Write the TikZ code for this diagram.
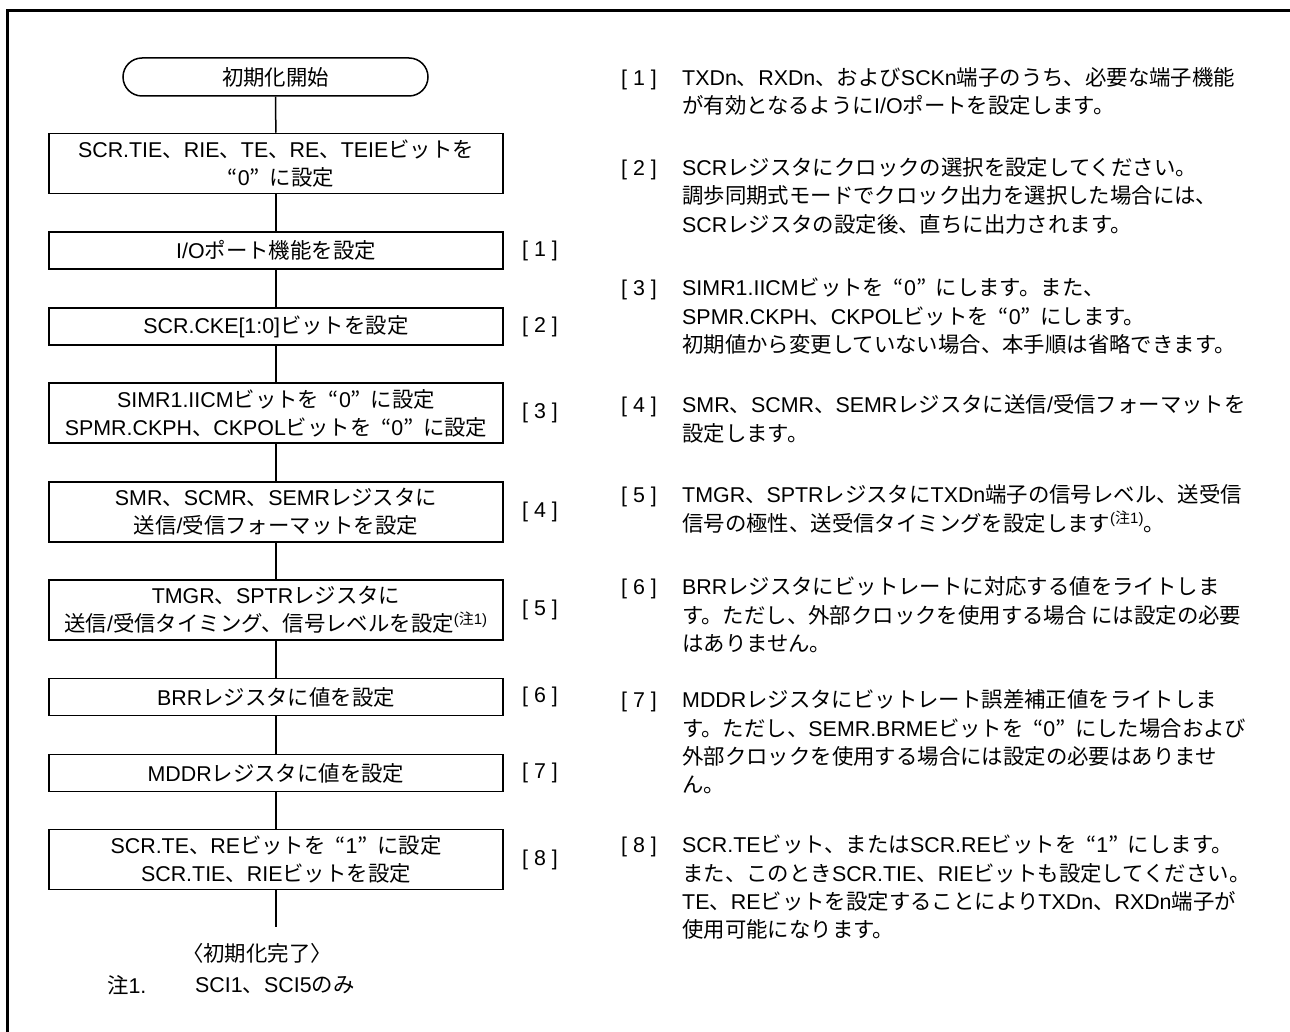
\documentclass[tikz,border=0pt]{standalone}
\usepackage{fontspec}
\setmainfont{Liberation Sans}
\newfontfamily\latinfont{Liberation Sans}
\newfontfamily\jafont{Noto Sans CJK JP}
\usetikzlibrary{shapes.misc}
\XeTeXinterchartokenstate=1
\newXeTeXintercharclass\JClass
\newcount\jcnt
\def\setjrange#1#2{\jcnt=#1\relax
  \loop\XeTeXcharclass\jcnt=\JClass
  \ifnum\jcnt<#2\relax\advance\jcnt by 1\repeat}
\setjrange{"3000}{"30FF}
\setjrange{"4E00}{"9FFF}
\setjrange{"FF00}{"FFEF}
\XeTeXcharclass"201C=\JClass
\XeTeXcharclass"201D=\JClass
\XeTeXinterchartoks 0 \JClass = {\jafont}
\XeTeXinterchartoks 4095 \JClass = {\jafont}
\XeTeXinterchartoks \JClass 0 = {\latinfont}
\XeTeXinterchartoks 4095 0 = {\latinfont}
\newcommand\fwq[1]{\hspace{0.45em}“#1”\hspace{0.45em}}
\begin{document}
\begin{tikzpicture}[x=1pt,y=-1pt,
  every node/.style={font=\fontsize{21.4}{28}\selectfont, inner sep=0pt},
  proc/.style={draw, line width=1.5pt, minimum width=454pt, minimum height=37pt, align=center},
  proc2/.style={proc, minimum height=60pt},
  term/.style={draw, line width=1.5pt, rounded rectangle, minimum width=305pt, minimum height=38pt},
  conn/.style={line width=1.5pt},
  para/.style={anchor=north west, align=left, font=\fontsize{21.4}{28.3}\selectfont},
  num/.style={anchor=base west}]
\useasboundingbox (0,0) rectangle (1290,1032);
\draw[line width=3pt] (7.5,1032) -- (7.5,10.5) -- (1290,10.5);

% flowchart
\node[term] (s) at (275.5,77) {初期化開始};
\node[proc2] (b1) at (276,163.5) {SCR.TIE、RIE、TE、RE、TEIEビットを\\\fwq{0}に設定};
\node[proc] (b2) at (276,250.5) {I/Oポート機能を設定};
\node[proc] (b3) at (276,326.5) {SCR.CKE[1:0]ビットを設定};
\node[proc2] (b4) at (276,413) {SIMR1.IICMビットを\fwq{0}に設定\\SPMR.CKPH、CKPOLビットを\fwq{0}に設定};
\node[proc2] (b5) at (276,512) {SMR、SCMR、SEMRレジスタに\\送信/受信フォーマットを設定};
\node[proc2] (b6) at (276,610) {TMGR、SPTRレジスタに\\送信/受信タイミング、信号レベルを設定\textsuperscript{(注1)}};
\node[proc] (b7) at (276,697) {BRRレジスタに値を設定};
\node[proc] (b8) at (276,773) {MDDRレジスタに値を設定};
\node[proc2] (b9) at (276,859.5) {SCR.TE、REビットを\fwq{1}に設定\\SCR.TIE、RIEビットを設定};
\coordinate (e) at (276,927);
\node (done) at (257,953) {〈初期化完了〉};

\draw[conn] (s) -- (b1);
\draw[conn] (b1) -- (b2);
\draw[conn] (b2) -- (b3);
\draw[conn] (b3) -- (b4);
\draw[conn] (b4) -- (b5);
\draw[conn] (b5) -- (b6);
\draw[conn] (b6) -- (b7);
\draw[conn] (b7) -- (b8);
\draw[conn] (b8) -- (b9);
\draw[conn] (b9) -- (e);

% step labels
\node (l1) at (540,250.5) {[ 1 ]};
\node (l2) at (540,326.5) {[ 2 ]};
\node (l3) at (540,413) {[ 3 ]};
\node (l4) at (540,512) {[ 4 ]};
\node (l5) at (540,610) {[ 5 ]};
\node (l6) at (540,697) {[ 6 ]};
\node (l7) at (540,773) {[ 7 ]};
\node (l8) at (540,859.5) {[ 8 ]};

% note
\node[anchor=west] (n1) at (107,985) {注1.};
\node[anchor=west] (n2) at (195,985) {SCI1、SCI5のみ};

% explanations
\node[num] (r1) at (621,85.5) {[ 1 ]};
\node[para] (p1) at (682,65.5) {\rule{0pt}{20pt}TXDn、RXDn、およびSCKn端子のうち、必要な端子機能\\が有効となるようにI/Oポートを設定します。};
\node[num] (r2) at (621,175.5) {[ 2 ]};
\node[para] (p2) at (682,155.5) {\rule{0pt}{20pt}SCRレジスタにクロックの選択を設定してください。\\調歩同期式モードでクロック出力を選択した場合には、\\SCRレジスタの設定後、直ちに出力されます。};
\node[num] (r3) at (621,295.5) {[ 3 ]};
\node[para] (p3) at (682,275.5) {\rule{0pt}{20pt}SIMR1.IICMビットを\fwq{0}にします。また、\\SPMR.CKPH、CKPOLビットを\fwq{0}にします。\\初期値から変更していない場合、本手順は省略できます。};
\node[num] (r4) at (621,412.5) {[ 4 ]};
\node[para] (p4) at (682,392.5) {\rule{0pt}{20pt}SMR、SCMR、SEMRレジスタに送信/受信フォーマットを\\設定します。};
\node[num] (r5) at (621,502.5) {[ 5 ]};
\node[para] (p5) at (682,482.5) {\rule{0pt}{20pt}TMGR、SPTRレジスタにTXDn端子の信号レベル、送受信\\信号の極性、送受信タイミングを設定します\textsuperscript{(注1)}。};
\node[num] (r6) at (621,594.5) {[ 6 ]};
\node[para] (p6) at (682,574.5) {\rule{0pt}{20pt}BRRレジスタにビットレートに対応する値をライトしま\\す。ただし、外部クロックを使用する場合 には設定の必要\\はありません。};
\node[num] (r7) at (621,707.5) {[ 7 ]};
\node[para] (p7) at (682,687.5) {\rule{0pt}{20pt}MDDRレジスタにビットレート誤差補正値をライトしま\\す。ただし、SEMR.BRMEビットを\fwq{0}にした場合および\\外部クロックを使用する場合には設定の必要はありませ\\ん。};
\node[num] (r8) at (621,852.5) {[ 8 ]};
\node[para] (p8) at (682,832.5) {\rule{0pt}{20pt}SCR.TEビット、またはSCR.REビットを\fwq{1}にします。\\また、このときSCR.TIE、RIEビットも設定してください。\\TE、REビットを設定することによりTXDn、RXDn端子が\\使用可能になります。};
\end{tikzpicture}
\end{document}
